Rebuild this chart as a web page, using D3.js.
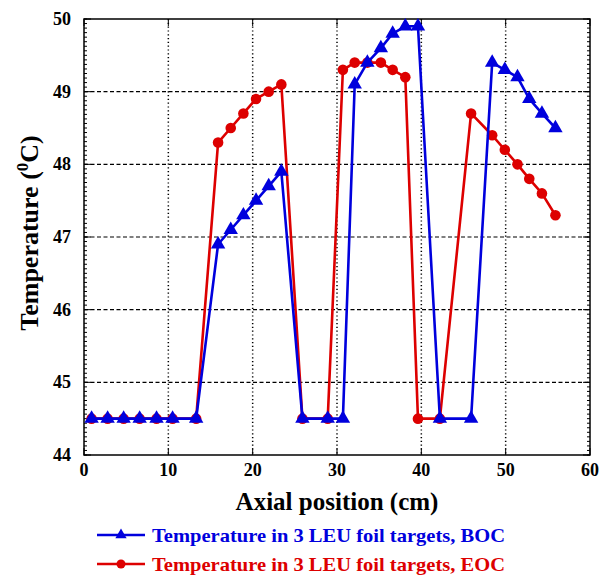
<!DOCTYPE html>
<html>
<head>
<meta charset="utf-8">
<script src="https://cdn.jsdelivr.net/npm/d3@7"></script>
<style>
  html, body { margin: 0; padding: 0; background: #fff; }
  svg { display: block; }
  text { font-family: "Liberation Serif", "DejaVu Serif", serif; font-weight: bold; }
</style>
</head>
<body>
<svg id="chart" width="601" height="575"></svg>
<script>
// Axial positions (cm) of the calculation points
const positions = [0.9, 2.8, 4.7, 6.6, 8.6, 10.5, 13.3, 15.9, 17.4, 18.9, 20.4, 21.9, 23.4,
  25.9, 28.9, 30.7, 32.1, 33.6, 35.2, 36.6, 38.1, 39.6, 42.2, 45.9, 48.4, 49.9, 51.4, 52.8, 54.3, 55.9];

// Temperatures (°C) at beginning of cycle
const bocTemps = [44.5, 44.5, 44.5, 44.5, 44.5, 44.5, 44.5, 46.9, 47.1, 47.3, 47.5, 47.7, 47.9,
  44.5, 44.5, 44.5, 49.1, 49.4, 49.6, 49.8, 49.9, 49.9, 44.5, 44.5, 49.4, 49.3, 49.2, 48.9, 48.7, 48.5];

// Temperatures (°C) at end of cycle
const eocTemps = [44.5, 44.5, 44.5, 44.5, 44.5, 44.5, 44.5, 48.3, 48.5, 48.7, 48.9, 49.0, 49.1,
  44.5, 44.5, 49.3, 49.4, 49.4, 49.4, 49.3, 49.2, 44.5, 44.5, 48.7, 48.4, 48.2, 48.0, 47.8, 47.6, 47.3];

const xTicks = [0, 10, 20, 30, 40, 50, 60];
const yTicks = [44, 45, 46, 47, 48, 49, 50];

const seriesNames = ["Temperature in 3 LEU foil targets, BOC", "Temperature in 3 LEU foil targets, EOC"];
const seriesColors = ["#0000dd", "#dd0000"];

const svg = d3.select("#chart");
const plotLeft = 84, plotRight = 590, plotTop = 19, plotBottom = 455;

const x = d3.scaleLinear().domain([0, 60]).range([plotLeft, plotRight]);
const y = d3.scaleLinear().domain([44, 50]).range([plotBottom, plotTop]);

// grid lines
const grid = svg.append("g");
grid.selectAll("line.h").data(yTicks.slice(1, -1)).enter().append("line")
  .attr("x1", plotLeft).attr("x2", plotRight)
  .attr("y1", d => y(d)).attr("y2", d => y(d))
  .attr("stroke", "#000").attr("stroke-width", 1.2).attr("stroke-dasharray", "4,2.5");
grid.selectAll("line.v").data(xTicks.slice(1, -1)).enter().append("line")
  .attr("y1", plotTop).attr("y2", plotBottom)
  .attr("x1", d => x(d)).attr("x2", d => x(d))
  .attr("stroke", "#000").attr("stroke-width", 1.5).attr("stroke-dasharray", "1.2,2.6");

// minor ticks on left and right frames
const minorY = d3.range(44, 50.001, 0.0625);
const ticksG = svg.append("g").attr("stroke", "#000").attr("stroke-width", 1);
ticksG.selectAll("line.ml").data(minorY).enter().append("line")
  .attr("x1", plotLeft).attr("x2", plotLeft + 3)
  .attr("y1", d => y(d)).attr("y2", d => y(d));
ticksG.selectAll("line.mr").data(minorY).enter().append("line")
  .attr("x1", plotRight - 3).attr("x2", plotRight)
  .attr("y1", d => y(d)).attr("y2", d => y(d));
// major ticks
ticksG.selectAll("line.Ml").data(yTicks).enter().append("line")
  .attr("x1", plotLeft).attr("x2", plotLeft + 7)
  .attr("y1", d => y(d)).attr("y2", d => y(d));
ticksG.selectAll("line.Mr").data(yTicks).enter().append("line")
  .attr("x1", plotRight - 7).attr("x2", plotRight)
  .attr("y1", d => y(d)).attr("y2", d => y(d));
ticksG.selectAll("line.Mb").data(xTicks).enter().append("line")
  .attr("x1", d => x(d)).attr("x2", d => x(d))
  .attr("y1", plotBottom).attr("y2", plotBottom - 7);
ticksG.selectAll("line.Mt").data(xTicks).enter().append("line")
  .attr("x1", d => x(d)).attr("x2", d => x(d))
  .attr("y1", plotTop).attr("y2", plotTop + 7);

// frame
svg.append("rect").attr("x", plotLeft).attr("y", plotTop)
  .attr("width", plotRight - plotLeft).attr("height", plotBottom - plotTop)
  .attr("fill", "none").attr("stroke", "#000").attr("stroke-width", 1.5);

// tick labels
svg.append("g").selectAll("text").data(xTicks).enter().append("text")
  .attr("x", d => x(d)).attr("y", plotBottom + 21)
  .attr("text-anchor", "middle").attr("font-size", 18)
  .text(d => d);
svg.append("g").selectAll("text").data(yTicks).enter().append("text")
  .attr("x", plotLeft - 13).attr("y", d => y(d) + 6)
  .attr("text-anchor", "end").attr("font-size", 18)
  .text(d => d);

// axis titles
svg.append("text").attr("x", x(30)).attr("y", 510)
  .attr("text-anchor", "middle").attr("font-size", 25)
  .text("Axial position (cm)");
const yt = svg.append("text")
  .attr("transform", `translate(38,233) rotate(-90)`)
  .attr("text-anchor", "middle").attr("font-size", 26);
yt.append("tspan").text("Temperature (");
yt.append("tspan").attr("dy", -10).attr("font-size", 17).text("0");
yt.append("tspan").attr("dy", 10).text("C)");

// series
const line = d3.line().x(d => x(d[0])).y(d => y(d[1]));
const tri = d3.symbol().type(d3.symbolTriangle).size(90);

function drawSeries(values, color, marker) {
  const pts = positions.map((p, i) => [p, values[i]]);
  const g = svg.append("g");
  g.append("path").datum(pts).attr("d", line)
    .attr("fill", "none").attr("stroke", color).attr("stroke-width", 2.6)
    .attr("stroke-linejoin", "round");
  if (marker === "circle") {
    g.selectAll("circle").data(pts).enter().append("circle")
      .attr("cx", d => x(d[0])).attr("cy", d => y(d[1])).attr("r", 5.3)
      .attr("fill", color);
  } else {
    g.selectAll("path.m").data(pts).enter().append("path")
      .attr("d", tri)
      .attr("transform", d => `translate(${x(d[0])},${y(d[1])})`)
      .attr("fill", color);
  }
}
drawSeries(eocTemps, seriesColors[1], "circle");
drawSeries(bocTemps, seriesColors[0], "triangle");

// legend
const legend = svg.append("g");
const legY = [535, 564];
[0, 1].forEach(i => {
  legend.append("line").attr("x1", 97).attr("x2", 145)
    .attr("y1", legY[i]).attr("y2", legY[i])
    .attr("stroke", seriesColors[i]).attr("stroke-width", 2.6);
  if (i === 0) {
    legend.append("path").attr("d", d3.symbol().type(d3.symbolTriangle).size(55))
      .attr("transform", `translate(121,${legY[i]})`).attr("fill", seriesColors[i]);
  } else {
    legend.append("circle").attr("cx", 121).attr("cy", legY[i]).attr("r", 4.5)
      .attr("fill", seriesColors[i]);
  }
  legend.append("text").attr("x", 152).attr("y", legY[i] + 7)
    .attr("font-size", 19).attr("fill", seriesColors[i])
    .attr("textLength", 353).attr("lengthAdjust", "spacingAndGlyphs")
    .text(seriesNames[i]);
});
</script>
</body>
</html>
